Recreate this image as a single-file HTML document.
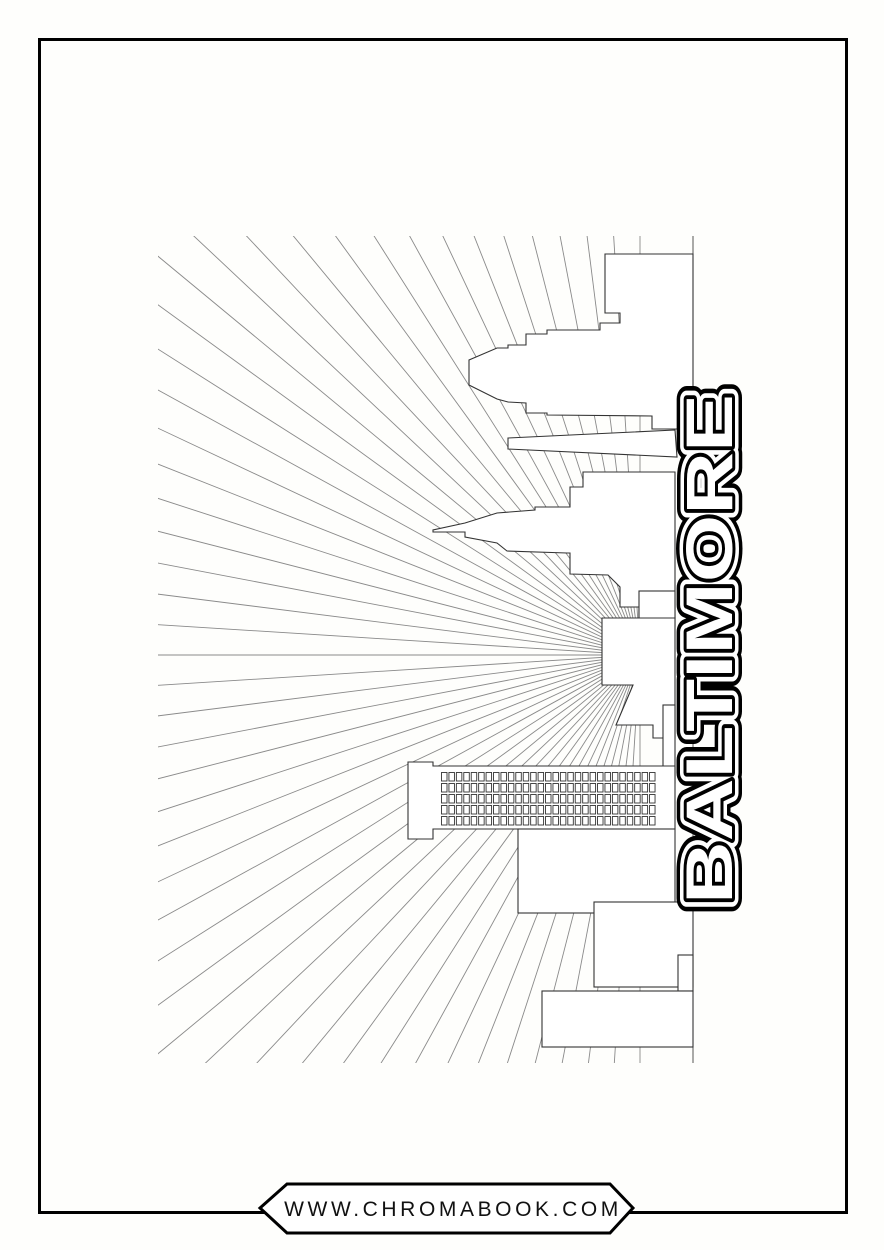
<!DOCTYPE html>
<html><head><meta charset="utf-8"><style>
html,body{margin:0;padding:0;background:#fefefc;width:884px;height:1250px;overflow:hidden;}
svg{display:block;}
</style></head><body>
<svg id="s" width="884" height="1250" viewBox="0 0 884 1250" xmlns="http://www.w3.org/2000/svg">
<rect x="0" y="0" width="884" height="1250" fill="#fefefc"/>
<rect x="39.5" y="39.5" width="807" height="1173" fill="none" stroke="#000" stroke-width="3"/>
<defs><clipPath id="c"><rect x="158" y="236" width="535" height="827"/></clipPath></defs>
<g id="rays" clip-path="url(#c)" stroke="#8a8a8a" stroke-width="0.9"></g>
<line x1="693" y1="236" x2="693" y2="1063" stroke="#555" stroke-width="1"/>
<g fill="#fff" stroke="#333" stroke-width="1.1">
<polygon points="693,254 605,254 605,313 620,313 620,323 600,323 600,330 547,330 547,334 526,334 526,345 508,345 508,348 497,348 469,360 469,385 497,399 508,402 526,403 526,413 547,413 547,415 652,416 652,429 693,429"/>
<polygon points="675,430 508,438 508,449 677,457"/>
<polygon points="675,472 583,472 583,487 570,487 570,507 535,507 535,510 497,513 465,523 433,530 433,532 465,532 465,537 497,543 507,551 567,553 570,553 570,574 608,575 620,587 620,607 639,607 639,618 675,618"/>
<rect x="639" y="591" width="36" height="35"/>
<polygon points="675,618 602,618 602,685 633,685 616,725 653,725 653,738 675,738"/>
<rect x="663" y="705" width="12" height="78"/>
<polygon points="408,762 433,762 433,766 675,766 675,829 433,829 433,839 408,839"/>
<rect x="518" y="829" width="157" height="84"/>
<rect x="594" y="902" width="99" height="85"/>
<rect x="678" y="955" width="15" height="36"/>
<rect x="542" y="991" width="151" height="56"/>
</g>
<g id="win" fill="none" stroke="#333" stroke-width="0.9"></g>
<g transform="translate(732,649) rotate(-90)" font-family="'Liberation Sans',sans-serif" font-weight="bold" font-size="66">
<text x="0" y="0" text-anchor="middle" textLength="510" lengthAdjust="spacingAndGlyphs" fill="#000" stroke="#000" stroke-width="20" stroke-linejoin="round">BALTIMORE</text>
<text x="0" y="0" text-anchor="middle" textLength="510" lengthAdjust="spacingAndGlyphs" fill="#fff" stroke="#fff" stroke-width="13" stroke-linejoin="round">BALTIMORE</text>
<text x="0" y="0" text-anchor="middle" textLength="510" lengthAdjust="spacingAndGlyphs" fill="#000" stroke="#000" stroke-width="6" stroke-linejoin="round">BALTIMORE</text>
<text x="0" y="0" text-anchor="middle" textLength="510" lengthAdjust="spacingAndGlyphs" fill="#fff" stroke="none">BALTIMORE</text>
</g>
<polygon points="260,1208 287,1184 610,1184 633,1208 610,1233 287,1233" fill="#fff" stroke="#000" stroke-width="3"/>
<text x="453" y="1216" text-anchor="middle" font-family="'Liberation Sans',sans-serif" font-size="21" letter-spacing="3.6" fill="#111">WWW.CHROMABOOK.COM</text>
</svg>
<script>
var ns="http://www.w3.org/2000/svg";
var g=document.getElementById("rays");
var cx=640,cy=655;
for(var a=90;a<=270;a+=3.6){var r=a*Math.PI/180;var l=document.createElementNS(ns,"line");
l.setAttribute("x1",cx);l.setAttribute("y1",cy);l.setAttribute("x2",cx+1400*Math.cos(r));l.setAttribute("y2",cy+1400*Math.sin(r));g.appendChild(l);}
var w=document.getElementById("win");
for(var i=0;i<5;i++)for(var j=0;j<29;j++){var e=document.createElementNS(ns,"rect");
e.setAttribute("x",441.5+j*7.43);e.setAttribute("y",772.5+i*11);e.setAttribute("width",5.5);e.setAttribute("height",8.5);w.appendChild(e);}
</script>
</body></html>
